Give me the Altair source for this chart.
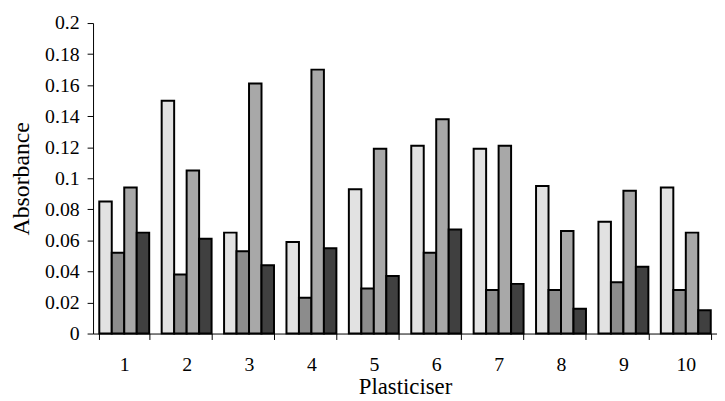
import altair as alt
import pandas as pd

groups = ["1", "2", "3", "4", "5", "6", "7", "8", "9", "10"]
series = ["Series 1", "Series 2", "Series 3", "Series 4"]
s1 = [0.085, 0.150, 0.065, 0.059, 0.093, 0.121, 0.119, 0.095, 0.072, 0.094]
s2 = [0.052, 0.038, 0.053, 0.023, 0.029, 0.052, 0.028, 0.028, 0.033, 0.028]
s3 = [0.094, 0.105, 0.161, 0.170, 0.119, 0.138, 0.121, 0.066, 0.092, 0.065]
s4 = [0.065, 0.061, 0.044, 0.055, 0.037, 0.067, 0.032, 0.016, 0.043, 0.015]
y_ticks = [0, 0.02, 0.04, 0.06, 0.08, 0.1, 0.12, 0.14, 0.16, 0.18, 0.2]
fills = ["#e2e2e2", "#8c8c8c", "#a8a8a8", "#404040"]

rows = []
for i, g in enumerate(groups):
    for s, vals in zip(series, [s1, s2, s3, s4]):
        rows.append({"Plasticiser": g, "series": s, "Absorbance": vals[i]})
df = pd.DataFrame(rows)

FONT = "'Liberation Serif', 'Times New Roman', Times, serif"

chart = alt.Chart(df).mark_bar(stroke="black", strokeWidth=2).encode(
    x=alt.X(
        "Plasticiser:N",
        sort=groups,
        title="Plasticiser",
        scale=alt.Scale(paddingInner=0.2, paddingOuter=0.1),
        axis=alt.Axis(
            labelAngle=0, tickBand="extent", tickSize=6, labelPadding=15,
            labelFontSize=20, titleFontSize=23, titlePadding=2,
            labelFont=FONT, titleFont=FONT, titleFontWeight="normal",
            domainColor="black", tickColor="black", labelColor="black", titleColor="black",
        ),
    ),
    xOffset=alt.XOffset("series:N", sort=series),
    y=alt.Y(
        "Absorbance:Q",
        title="Absorbance",
        scale=alt.Scale(domain=[0, 0.2], nice=False),
        axis=alt.Axis(
            values=y_ticks, format="~g", tickSize=6, labelPadding=8,
            labelFontSize=20, titleFontSize=24, titlePadding=11, grid=False,
            labelFont=FONT, titleFont=FONT, titleFontWeight="normal",
            domainColor="black", tickColor="black", labelColor="black", titleColor="black",
        ),
    ),
    color=alt.Color("series:N", sort=series, scale=alt.Scale(domain=series, range=fills), legend=None),
).properties(
    width=631, height=314,
    autosize="none",
    padding={"left": 86, "top": 13, "right": 0, "bottom": 66},
).configure_view(stroke=None)

chart.save("out.html", embed_options={"renderer": "svg", "actions": False})
